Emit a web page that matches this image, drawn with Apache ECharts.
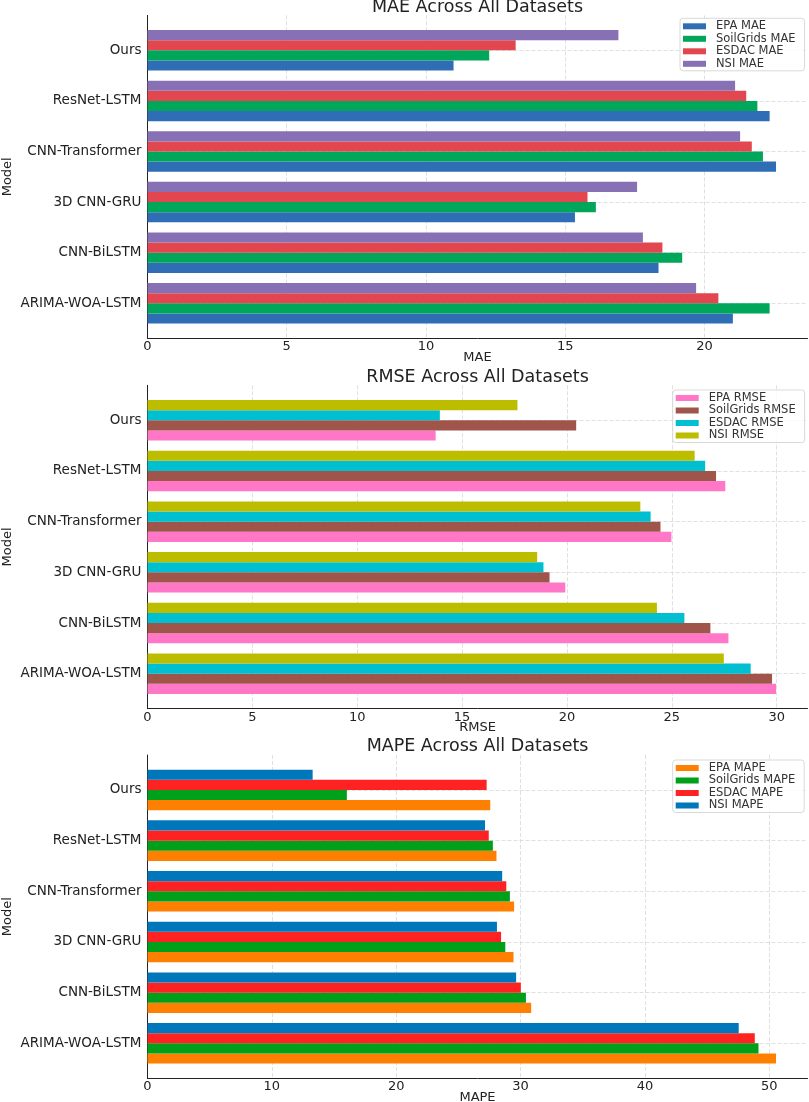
<!DOCTYPE html>
<html>
<head>
<meta charset="utf-8">
<title>MAE / RMSE / MAPE Across All Datasets</title>
<script src="https://cdn.jsdelivr.net/npm/echarts@6/dist/echarts.min.js"></script>
<style>
    html, body { margin: 0; padding: 0; background: #fff; }
    #chart { width: 809px; height: 1102px; }
</style>
</head>
<body>
<div id="chart"></div>
<script>
    // categories, bottom to top
    var models = ['ARIMA-WOA-LSTM', 'CNN-BiLSTM', '3D CNN-GRU', 'CNN-Transformer', 'ResNet-LSTM', 'Ours'];
    var datasets = ['EPA', 'SoilGrids', 'ESDAC', 'NSI'];

    // MAE
    var maeEPA       = [21.02, 18.35, 15.35, 22.57, 22.34, 10.99];
    var maeSoilGrids = [22.34, 19.20, 16.10, 22.10, 21.90, 12.27];
    var maeESDAC     = [20.50, 18.49, 15.80, 21.70, 21.50, 13.22];
    var maeNSI       = [19.70, 17.79, 17.58, 21.28, 21.10, 16.91];
    var maeTicks     = [0, 5, 10, 15, 20];

    // RMSE
    var rmseEPA       = [29.97, 27.70, 19.92, 24.98, 27.55, 13.74];
    var rmseSoilGrids = [29.78, 26.84, 19.17, 24.46, 27.11, 20.44];
    var rmseESDAC     = [28.76, 25.60, 18.88, 23.99, 26.59, 13.94];
    var rmseNSI       = [27.48, 24.29, 18.58, 23.50, 26.09, 17.64];
    var rmseTicks     = [0, 5, 10, 15, 20, 25, 30];

    // MAPE
    var mapeEPA       = [50.54, 30.85, 29.43, 29.48, 28.06, 27.56];
    var mapeSoilGrids = [49.13, 30.43, 28.77, 29.14, 27.77, 16.03];
    var mapeESDAC     = [48.83, 30.02, 28.43, 28.85, 27.44, 27.27];
    var mapeNSI       = [47.54, 29.64, 28.10, 28.52, 27.14, 13.28];
    var mapeTicks     = [0, 10, 20, 30, 40, 50];

    var modelTicks = [0, 1, 2, 3, 4, 5];

    var panels = [
        { metric: 'MAE',  values: [maeEPA, maeSoilGrids, maeESDAC, maeNSI],     max: 23.7,  ticks: maeTicks,
          colors: ['#2F6EB5', '#00A65A', '#E2474F', '#8870B5'] },
        { metric: 'RMSE', values: [rmseEPA, rmseSoilGrids, rmseESDAC, rmseNSI], max: 31.47, ticks: rmseTicks,
          colors: ['#FF77C6', '#A0554A', '#00BFD0', '#BDBD00'] },
        { metric: 'MAPE', values: [mapeEPA, mapeSoilGrids, mapeESDAC, mapeNSI], max: 53.07, ticks: mapeTicks,
          colors: ['#FF8000', '#00A01A', '#FF2222', '#0077BB'] }
    ];

    // pixel layout of each panel
    var layout = [
        { top: 15.4,  bottom: 338.2,  titleTop: -2,    legendLeft: 680,   legendTop: 18.3 },
        { top: 385.3, bottom: 708.7,  titleTop: 368,   legendLeft: 672.7, legendTop: 390 },
        { top: 755,   bottom: 1078.3, titleTop: 737.3, legendLeft: 672.7, legendTop: 760 }
    ];

    var FONT = 'DejaVu Sans';
    var BAR_H = 0.2;

    // horizontal bar drawn on the value axes, offset inside its group
    var makeBar = function(offset){
        return function(params, api){
            var y = api.value(1) + offset;
            var start = api.coord([0, y]);
            var end = api.coord([api.value(0), y]);
            var h = api.size([0, BAR_H])[1];
            return {
                type: 'rect',
                shape: { x: start[0], y: start[1] - h / 2, width: end[0] - start[0], height: h },
                style: api.style()
            };
        };
    };

    var option = {
        animation: false,
        backgroundColor: '#fff',
        textStyle: { fontFamily: FONT },
        title: [], legend: [], grid: [], xAxis: [], yAxis: [], series: []
    };

    panels.forEach(function(p, i){
        var L = layout[i];
        option.title.push({
            text: p.metric + ' Across All Datasets',
            left: 477.5, top: L.titleTop, textAlign: 'center', padding: 0,
            textStyle: { fontFamily: FONT, fontSize: 17.5, fontWeight: 'normal', color: '#222' }
        });
        option.grid.push({
            left: 147.5, width: 660, top: L.top, height: L.bottom - L.top,
            containLabel: false, outerBoundsMode: 'none'
        });
        option.xAxis.push({
            type: 'value', gridIndex: i, min: 0, max: p.max,
            name: p.metric, nameLocation: 'middle', nameGap: 12.5, nameMoveOverlap: false,
            nameTextStyle: { fontFamily: FONT, fontSize: 13, color: '#222' },
            axisLine: { show: true, onZero: false, lineStyle: { color: '#222', width: 1 } },
            axisTick: { show: false, customValues: p.ticks },
            axisLabel: { customValues: p.ticks, margin: 2, fontFamily: FONT, fontSize: 13, color: '#222' },
            splitLine: { show: true, lineStyle: { color: '#d8d8d8', width: 0.8, type: [4, 2] } }
        });
        option.yAxis.push({
            type: 'value', gridIndex: i, min: -0.69, max: 5.69,
            name: 'Model', nameLocation: 'middle', nameGap: 133, nameRotate: 90, nameMoveOverlap: false,
            nameTextStyle: { fontFamily: FONT, fontSize: 13, color: '#222' },
            axisLine: { show: true, onZero: false, lineStyle: { color: '#222', width: 1 } },
            axisTick: { show: false, customValues: modelTicks },
            axisLabel: {
                customValues: modelTicks, margin: 6, fontFamily: FONT, fontSize: 13.5, color: '#222',
                formatter: function(v){ return models[Math.round(v)]; }
            },
            splitLine: { show: true, lineStyle: { color: '#d8d8d8', width: 0.8, type: [4, 2] } }
        });

        var names = [];
        datasets.forEach(function(ds, k){
            var name = ds + ' ' + p.metric;
            names.push(name);
            option.series.push({
                type: 'custom', name: name,
                xAxisIndex: i, yAxisIndex: i,
                renderItem: makeBar(-0.3 + BAR_H * k),
                itemStyle: { color: p.colors[k] },
                encode: { x: 0, y: 1 },
                data: p.values[k].map(function(v, j){ return [v, j]; })
            });
        });

        option.legend.push({
            data: names, orient: 'vertical',
            left: L.legendLeft, top: L.legendTop,
            padding: [2, 9, 1, 3], itemGap: 0.5,
            itemWidth: 23, itemHeight: 6, icon: 'rect',
            backgroundColor: 'rgba(255,255,255,0.8)',
            borderColor: '#cfcfcf', borderWidth: 0.8, borderRadius: 3,
            textStyle: { fontFamily: FONT, fontSize: 11.5, lineHeight: 11.2, color: '#333', padding: [0, 0, 0, 5] }
        });
    });

    var myChart = echarts.init(document.getElementById('chart'));
    myChart.setOption(option);
</script>
</body>
</html>
